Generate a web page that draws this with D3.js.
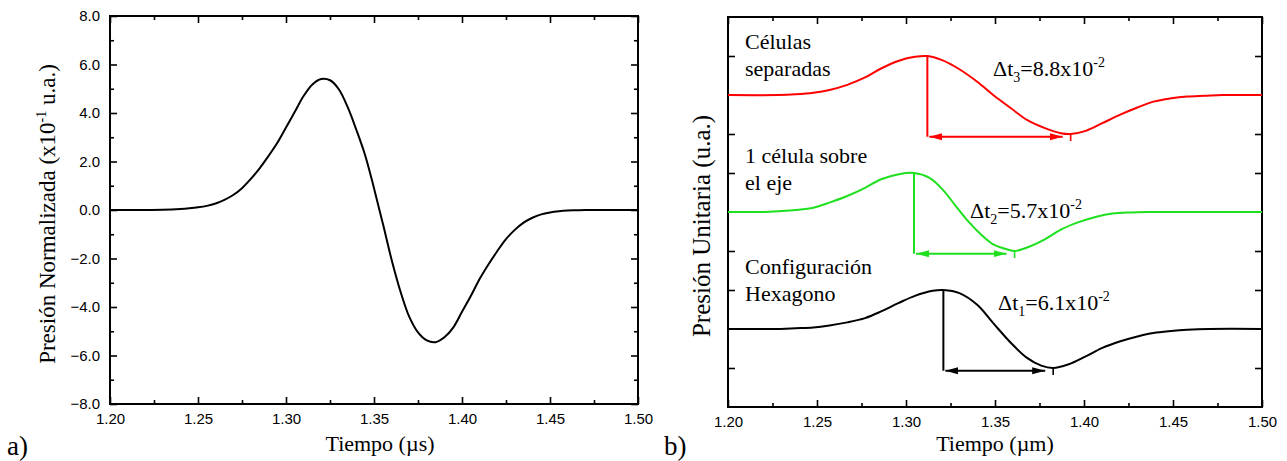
<!DOCTYPE html>
<html>
<head>
<meta charset="utf-8">
<script src="https://cdn.jsdelivr.net/npm/d3@7"></script>
<style>
  body { margin: 0; background: #fff; }
</style>
</head>
<body>
<script>
// Panel a) normalized pressure, [time (µs), value (x10^-1 u.a.)]
const pulseNorm = [
  [1.200, 0], [1.210, 0], [1.220, 0], [1.230, 0.01], [1.235, 0.02], [1.240, 0.04],
  [1.245, 0.07], [1.250, 0.11], [1.255, 0.17], [1.260, 0.27], [1.265, 0.42],
  [1.270, 0.62], [1.275, 0.90], [1.280, 1.28], [1.285, 1.72], [1.290, 2.22],
  [1.295, 2.76], [1.300, 3.40], [1.305, 4.05], [1.310, 4.70], [1.315, 5.18],
  [1.320, 5.40], [1.325, 5.35], [1.330, 4.98], [1.335, 4.25], [1.340, 3.30],
  [1.345, 2.25], [1.350, 0.90], [1.355, -0.55], [1.360, -2.05], [1.365, -3.35],
  [1.370, -4.40], [1.375, -5.05], [1.380, -5.38], [1.385, -5.45], [1.390, -5.25],
  [1.395, -4.85], [1.400, -4.20], [1.405, -3.55], [1.410, -2.85], [1.415, -2.25],
  [1.420, -1.70], [1.425, -1.20], [1.430, -0.82], [1.435, -0.52], [1.440, -0.32],
  [1.445, -0.18], [1.450, -0.10], [1.455, -0.05], [1.460, -0.02], [1.465, -0.01],
  [1.470, 0], [1.480, 0], [1.490, 0], [1.500, 0]
];

// Panel b) unit pressure per configuration, [time, value] (before vertical offset)
const pulseHexagono = [
  [1.200, 0], [1.225, 0], [1.238, 0.02], [1.248, 0.04], [1.257, 0.09], [1.267, 0.17],
  [1.277, 0.28], [1.286, 0.45], [1.296, 0.67], [1.305, 0.85], [1.315, 0.98],
  [1.321, 1.0], [1.330, 0.92], [1.340, 0.62], [1.349, 0.15], [1.359, -0.36],
  [1.368, -0.74], [1.376, -0.94], [1.3827, -1.0], [1.391, -0.91], [1.401, -0.70],
  [1.410, -0.49], [1.420, -0.32], [1.430, -0.19], [1.439, -0.10], [1.449, -0.05],
  [1.458, -0.02], [1.470, 0], [1.500, 0]
];
const pulseEje = [
  [1.200, 0], [1.220, 0], [1.229, 0.02], [1.238, 0.05], [1.248, 0.11], [1.257, 0.24],
  [1.267, 0.41], [1.277, 0.62], [1.286, 0.84], [1.296, 0.97], [1.3045, 1.0],
  [1.313, 0.88], [1.3205, 0.58], [1.328, 0.15], [1.334, -0.19], [1.342, -0.57],
  [1.349, -0.83], [1.357, -0.96], [1.361, -1.0], [1.368, -0.91], [1.378, -0.70],
  [1.3875, -0.44], [1.397, -0.26], [1.407, -0.12], [1.416, -0.04], [1.426, -0.01],
  [1.436, 0], [1.500, 0]
];
const pulseSeparadas = [
  [1.200, 0], [1.228, 0], [1.238, 0.02], [1.248, 0.06], [1.257, 0.13], [1.267, 0.26],
  [1.277, 0.45], [1.286, 0.68], [1.296, 0.88], [1.305, 0.98], [1.312, 1.0],
  [1.320, 0.90], [1.330, 0.66], [1.340, 0.34], [1.349, 0.0], [1.359, -0.34],
  [1.368, -0.64], [1.378, -0.85], [1.387, -0.98], [1.3925, -1.0], [1.401, -0.92],
  [1.410, -0.73], [1.420, -0.51], [1.430, -0.32], [1.439, -0.17], [1.449, -0.085],
  [1.458, -0.04], [1.468, -0.02], [1.478, 0], [1.500, 0]
];

const seriesData = [pulseHexagono, pulseEje, pulseSeparadas];
const seriesColors = ["#000000", "#1ee01e", "#ff0000"];
const seriesOffsets = [0, 3, 6];
const seriesLabels = [["Configuración", "Hexagono"], ["1 célula sobre", "el eje"], ["Células", "separadas"]];
const peakTimes = [1.321, 1.3045, 1.312];
const troughTimes = [1.3827, 1.361, 1.3925];
const deltaIndex = ["1", "2", "3"];
const deltaValues = ["6.1", "5.7", "8.8"];
const deltaLabelPos = [[1.3517, 0.50], [1.336, 2.85], [1.3489, 6.49]];

// Ticks
const xMajorTicks = [1.20, 1.25, 1.30, 1.35, 1.40, 1.45, 1.50];
const xMinorTicks = [1.225, 1.275, 1.325, 1.375, 1.425, 1.475];
const yMajorTicksA = [-8, -6, -4, -2, 0, 2, 4, 6, 8];
const yMinorTicksA = [-7, -5, -3, -1, 1, 3, 5, 7];
const yTicksB = [-1, 1, 2, 4, 5, 7];

const width = 1287;
const height = 461;
const serif = "'Liberation Serif', 'Times New Roman', serif";
const sans = "'Liberation Sans', Arial, sans-serif";

const svg = d3.select("body").append("svg")
  .attr("width", width)
  .attr("height", height)
  .attr("viewBox", [0, 0, width, height]);

const smooth = d3.curveCatmullRom.alpha(0.5);

// Draws the box frame with inward ticks on all four sides
function frame(x, y, yMajor, yMinor, yLabels) {
  const [x0, x1] = x.range();
  const [yb, yt] = y.range();
  const g = svg.append("g");

  const addAxis = (axis, tx, ty) => {
    g.append("g")
      .attr("transform", `translate(${tx},${ty})`)
      .call(axis)
      .call((a) => a.select(".domain").remove())
      .call((a) => a.selectAll("line").attr("stroke", "#000").attr("stroke-width", 1.6))
      .call((a) => a.selectAll("text").attr("font-family", sans).attr("font-size", 15).attr("fill", "#000"));
  };

  addAxis(d3.axisBottom(x).tickValues(xMajorTicks).tickSize(-7).tickPadding(9).tickFormat(d3.format(".2f")), 0, yb);
  addAxis(d3.axisBottom(x).tickValues(xMinorTicks).tickSize(-4).tickFormat(""), 0, yb);
  addAxis(d3.axisTop(x).tickValues(xMajorTicks).tickSize(-7).tickFormat(""), 0, yt);
  addAxis(d3.axisTop(x).tickValues(xMinorTicks).tickSize(-4).tickFormat(""), 0, yt);

  addAxis(d3.axisLeft(y).tickValues(yMajor).tickSize(-7).tickPadding(10)
    .tickFormat(yLabels ? d3.format(".1f") : ""), x0, 0);
  addAxis(d3.axisRight(y).tickValues(yMajor).tickSize(-7).tickFormat(""), x1, 0);
  if (yMinor.length) {
    addAxis(d3.axisLeft(y).tickValues(yMinor).tickSize(-4).tickFormat(""), x0, 0);
    addAxis(d3.axisRight(y).tickValues(yMinor).tickSize(-4).tickFormat(""), x1, 0);
  }

  g.append("rect")
    .attr("x", x0).attr("y", yt)
    .attr("width", x1 - x0).attr("height", yb - yt)
    .attr("fill", "none").attr("stroke", "#000").attr("stroke-width", 2);
}

// ---------- Panel a ----------
const xA = d3.scaleLinear().domain([1.2, 1.5]).range([110, 638]);
const yA = d3.scaleLinear().domain([-8, 8]).range([404, 16]);

frame(xA, yA, yMajorTicksA, yMinorTicksA, true);

svg.append("path")
  .datum(pulseNorm)
  .attr("fill", "none")
  .attr("stroke", "#000")
  .attr("stroke-width", 2)
  .attr("d", d3.line().x((d) => xA(d[0])).y((d) => yA(d[1])).curve(smooth));

svg.append("text")
  .attr("x", (110 + 638) / 2 + 6).attr("y", 451)
  .attr("text-anchor", "middle")
  .attr("font-family", serif).attr("font-size", 22)
  .text("Tiempo (µs)");

const ylabA = svg.append("text")
  .attr("transform", `translate(55,${(16 + 404) / 2 + 4}) rotate(-90)`)
  .attr("text-anchor", "middle")
  .attr("font-family", serif).attr("font-size", 23);
ylabA.append("tspan").text("Presión Normalizada (x10");
ylabA.append("tspan").attr("font-size", 14).attr("dy", -9).text("-1");
ylabA.append("tspan").attr("dy", 9).text(" u.a.)");

svg.append("text")
  .attr("x", 7).attr("y", 455)
  .attr("font-family", serif).attr("font-size", 27)
  .text("a)");

// ---------- Panel b ----------
const xB = d3.scaleLinear().domain([1.2, 1.5]).range([728, 1262]);
const yB = d3.scaleLinear().domain([-2, 8]).range([407, 17]);

frame(xB, yB, yTicksB, [], false);

const defs = svg.append("defs");
seriesColors.forEach((c, i) => {
  defs.append("marker")
    .attr("id", `arrow${i}`)
    .attr("markerUnits", "userSpaceOnUse")
    .attr("viewBox", "0 0 13 8")
    .attr("markerWidth", 13).attr("markerHeight", 8)
    .attr("refX", 13).attr("refY", 4)
    .attr("orient", "auto-start-reverse")
    .append("path")
    .attr("d", "M0,0.5L13,4L0,7.5Z")
    .attr("fill", c);
});

const labelShift = [-16, -10, -7];

seriesData.forEach((data, i) => {
  const off = seriesOffsets[i];
  const color = seriesColors[i];

  svg.append("path")
    .datum(data)
    .attr("fill", "none")
    .attr("stroke", color)
    .attr("stroke-width", 2)
    .attr("d", d3.line().x((d) => xB(d[0])).y((d) => yB(d[1] + off)).curve(smooth));

  // peak-to-trough delay marker
  const tp = peakTimes[i];
  const tt = troughTimes[i];
  const yArrow = yB(off - 1.07);
  svg.append("line")
    .attr("x1", xB(tp)).attr("x2", xB(tp))
    .attr("y1", yB(off + 1)).attr("y2", yArrow)
    .attr("stroke", color).attr("stroke-width", 2);
  svg.append("line")
    .attr("x1", xB(tp) + 2).attr("x2", xB(tt) - 8)
    .attr("y1", yArrow).attr("y2", yArrow)
    .attr("stroke", color).attr("stroke-width", 2)
    .attr("marker-start", `url(#arrow${i})`)
    .attr("marker-end", `url(#arrow${i})`);
  svg.append("line")
    .attr("x1", xB(tt)).attr("x2", xB(tt))
    .attr("y1", yB(off - 1.0)).attr("y2", yB(off - 1.18))
    .attr("stroke", color).attr("stroke-width", 1.6);

  // delta label
  const [lt, lv] = deltaLabelPos[i];
  const dl = svg.append("text")
    .attr("x", xB(lt)).attr("y", yB(lv))
    .attr("font-family", serif).attr("font-size", 22).attr("fill", "#000");
  dl.append("tspan").text("Δt");
  dl.append("tspan").attr("font-size", 14).attr("dy", 6).text(deltaIndex[i]);
  dl.append("tspan").attr("dy", -6).text(`=${deltaValues[i]}x10`);
  dl.append("tspan").attr("font-size", 14).attr("dy", -9).text("-2");

  // configuration label
  const base = yB(off + 1) + labelShift[i];
  seriesLabels[i].forEach((line, j) => {
    svg.append("text")
      .attr("x", 745).attr("y", base + j * 27)
      .attr("font-family", serif).attr("font-size", 22).attr("fill", "#000")
      .text(line);
  });
});

svg.append("text")
  .attr("x", (728 + 1262) / 2).attr("y", 451)
  .attr("text-anchor", "middle")
  .attr("font-family", serif).attr("font-size", 22)
  .text("Tiempo (µm)");

svg.append("text")
  .attr("transform", `translate(710,${(17 + 407) / 2 + 14}) rotate(-90)`)
  .attr("text-anchor", "middle")
  .attr("font-family", serif).attr("font-size", 25)
  .text("Presión Unitaria (u.a.)");

svg.append("text")
  .attr("x", 664).attr("y", 455)
  .attr("font-family", serif).attr("font-size", 27)
  .text("b)");
</script>
</body>
</html>
